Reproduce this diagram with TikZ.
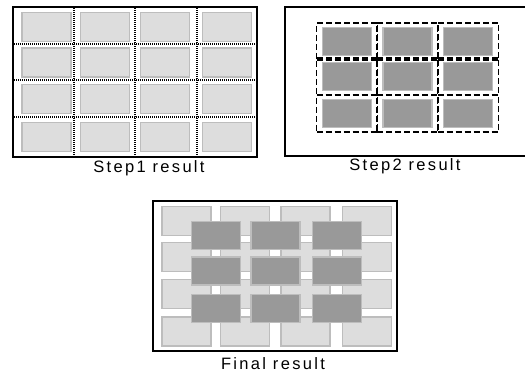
\documentclass[tikz,border=0pt]{standalone}
\usepackage{fontspec}
\setmainfont{Liberation Sans}
\newfontfamily\capfont{Liberation Sans}[LetterSpace=14]
\usepackage{tikz}
\usetikzlibrary{positioning}
\definecolor{cellGray}{HTML}{DDDDDD}
\definecolor{edgeGray}{HTML}{BDBDBD}
\definecolor{blockGray}{HTML}{999999}
\tikzset{
  frame/.style={draw=black, line width=1.8pt},
  lightcell/.style={rectangle, draw=edgeGray, fill=cellGray, line width=1.5pt,
                    minimum width=49pt, minimum height=29pt, inner sep=0pt},
  darkcell/.style={rectangle, draw=edgeGray, fill=blockGray, line width=1.5pt,
                   minimum width=49pt, minimum height=28pt, inner sep=0pt},
  tilebox/.style={rectangle, draw=black, line width=1.3pt, dash pattern=on 6pt off 3pt,
                  minimum width=61pt, minimum height=37pt, inner sep=0pt},
  gridline/.style={draw=black, line width=1.1pt, dash pattern=on 1pt off 1pt},
  caption/.style={font=\capfont\fontsize{16.5}{18}\selectfont, anchor=base, inner sep=0pt}
}

\begin{document}
\begin{tikzpicture}[x=1pt, y=-1pt]
\useasboundingbox (0,0) rectangle (525,374);

% Step 1
\foreach \c/\x in {1/46.5, 2/105, 3/165, 4/227}
  \foreach \r/\y in {1/27, 2/62.5, 3/99, 4/137}
    \node[lightcell] (l1-\r-\c) at (\x,\y) {};
\node[frame, rectangle, minimum width=244pt, minimum height=150pt, inner sep=0pt] (frame1) at (135,82) {};
\foreach \x in {74, 135, 197}
  \draw[gridline] (\x,0 |- frame1.north) -- (\x,0 |- frame1.south);
\foreach \y in {44, 80, 117}
  \draw[gridline] (frame1.west |- 0,\y) -- (frame1.east |- 0,\y);
\node[caption] (cap1) at (149,173) {Step1 result};

% Step 2
\draw[frame, line width=1.5pt] (526,7) -| (285,156) -- (526,156);
\foreach \c/\x in {1/347, 2/407.5, 3/468}
  \foreach \r/\y in {1/41.5, 2/76.5, 3/113.5} {
    \node[darkcell] (d2-\r-\c) at (\x,\y) {};
    \node[tilebox] (t2-\r-\c) at (d2-\r-\c) {};
  }
\node[caption] (cap2) at (405,171) {Step2 result};

% Final
\foreach \c/\x in {1/186.5, 2/245, 3/305.5, 4/367}
  \foreach \r/\y in {1/221, 2/257, 3/294, 4/331.5}
    \node[lightcell] (l3-\r-\c) at (\x,\y) {};
\foreach \c/\x in {1/216, 2/275.5, 3/337}
  \foreach \r/\y in {1/235.5, 2/271, 3/308.5}
    \node[darkcell] (d3-\r-\c) at (\x,\y) {};
\node[frame, rectangle, minimum width=244pt, minimum height=150pt, inner sep=0pt] (frame3) at (275,276) {};
\node[caption] (cap3) at (273,369) {Final result};
\end{tikzpicture}
\end{document}
